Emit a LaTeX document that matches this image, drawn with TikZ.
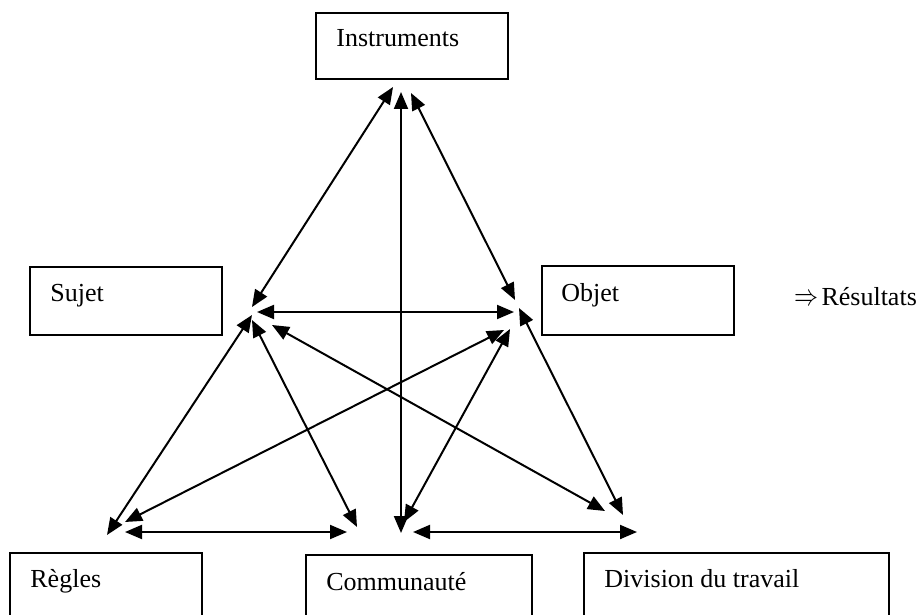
\documentclass[tikz,border=0pt]{standalone}
\usepackage{fontspec}
\setmainfont{Liberation Serif}
\usetikzlibrary{arrows.meta}
\begin{document}
\begin{tikzpicture}[x=0.5pt,y=-0.5pt,
  box/.style={draw, line width=1pt, rectangle, inner sep=0pt, anchor=north west},
  lbl/.style={anchor=base west, inner sep=0pt, font=\fontsize{13}{15}\selectfont},
  tip/.tip={Triangle[length=8.5pt,width=7pt]},
  link/.style={line width=1pt, tip-tip}]
\useasboundingbox (0,0) rectangle (920,615);
\fill[white] (0,0) rectangle (920,615);
\clip (0,0) rectangle (920,615);

% boxes
\node[box, minimum width=96pt, minimum height=33pt] (bI) at (315,12) {};
\node[box, minimum width=96pt, minimum height=34pt] (bS) at (29,266) {};
\node[box, minimum width=96pt, minimum height=34.5pt] (bO) at (541,265) {};
\node[box, minimum width=96pt, minimum height=50pt] (bR) at (9,552) {};
\node[box, minimum width=113pt, minimum height=50pt] (bC) at (305,554) {};
\node[box, minimum width=152.5pt, minimum height=50pt] (bD) at (583,552) {};

% labels
\node[lbl] (tI) at (336,47) {Instruments};
\node[lbl] (tS) at (50,301.7) {Sujet};
\node[lbl] (tO) at (561,301.7) {Objet};
\node[lbl] (tRes) at (794,305) {\scalebox{1.0}[1.25]{$\Rightarrow$}\hspace{0.12em}Résultats};
\node[lbl] (tR) at (30,587.7) {Règles};
\node[lbl] (tC) at (326,590) {Communauté};
\node[lbl] (tD) at (604,587.3) {Division du travail};

% arrow end points
\coordinate (iS) at (393,87);  \coordinate (sI) at (252,307);
\coordinate (iC) at (401,92);  \coordinate (cI) at (401,533);
\coordinate (iO) at (411,93);  \coordinate (oI) at (515,300);
\coordinate (sO) at (257,312); \coordinate (oS) at (514,312);
\coordinate (sR) at (252,315); \coordinate (rS) at (107,535);
\coordinate (sC) at (252,320); \coordinate (cS) at (357,527);
\coordinate (sD) at (272,325); \coordinate (dS) at (605,511);
\coordinate (oR) at (504,330); \coordinate (rO) at (125,522);
\coordinate (oC) at (510,329); \coordinate (cO) at (404,522);
\coordinate (oD) at (519,308); \coordinate (dO) at (623,515);
\coordinate (rC) at (125,532); \coordinate (cR) at (347,532);
\coordinate (cD) at (413,532); \coordinate (dC) at (637,532);

% connectors
\draw[link] (iS) -- (sI);
\draw[link] (iC) -- (cI);
\draw[link] (iO) -- (oI);
\draw[link] (sO) -- (oS);
\draw[link] (sR) -- (rS);
\draw[link] (sC) -- (cS);
\draw[link] (sD) -- (dS);
\draw[link] (oR) -- (rO);
\draw[link] (oC) -- (cO);
\draw[link] (oD) -- (dO);
\draw[link] (rC) -- (cR);
\draw[link] (cD) -- (dC);
\end{tikzpicture}
\end{document}
